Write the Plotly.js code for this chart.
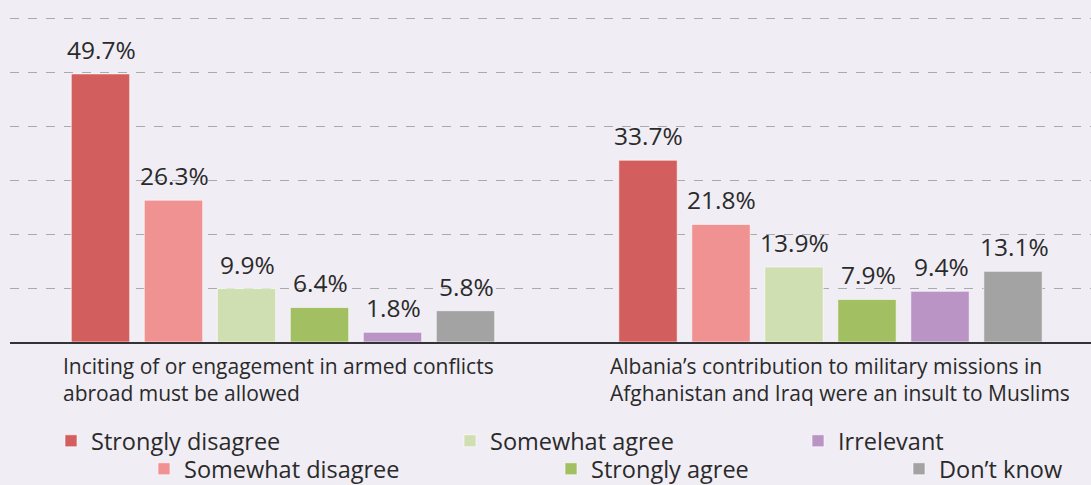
<!DOCTYPE html>
<html><head><meta charset="utf-8">
<script src="https://cdn.plot.ly/plotly-3.0.1.min.js"></script>
<style>html,body{margin:0;padding:0;background:#f0edf5;}#chart{width:1091px;height:485px;}</style>
</head><body><div id="chart"></div>
<script>
const categories = [
  "Inciting of or engagement in armed conflicts<br>abroad must be allowed",
  "Albania’s contribution to military missions in<br>Afghanistan and Iraq were an insult to Muslims"
];
const seriesNames = ["Strongly disagree","Somewhat disagree","Somewhat agree","Strongly agree","Irrelevant","Don’t know"];
const stronglyDisagree = [49.7, 33.7];
const somewhatDisagree = [26.3, 21.8];
const somewhatAgree = [9.9, 13.9];
const stronglyAgree = [6.4, 7.9];
const irrelevant = [1.8, 9.4];
const dontKnow = [5.8, 13.1];
const seriesValues = [stronglyDisagree, somewhatDisagree, somewhatAgree, stronglyAgree, irrelevant, dontKnow];
const colors = ["#d35e5e","#f09291","#d0dfb2","#a2c062","#b994c5","#a3a3a3"];

const FONT = "'Open Sans', sans-serif";
const TXT = "#2a2a2a";
const W = 1091, H = 485;
const ml = 10, mr = 0, mt = 0, mb = 143;
const xIdx = categories.map((c,i)=>i);
const xRange = [-0.4986, 1.4758];
const pxPerUnit = (W - ml - mr) / (xRange[1]-xRange[0]);
const nS = seriesNames.length;
const bargap = 0.2;
const pitch = (1-bargap)/nS * pxPerUnit;

// legend positions (symbol centre, px in container)
const legendPos = [[71,441],[164,469],[470,441],[571,469],[818,441],[919,469]];

const traces = seriesNames.map((name,i)=>({
  type:'bar', name:name, x:xIdx, y:seriesValues[i],
  marker:{color:colors[i], line:{color:'rgba(255,255,255,0.6)', width:1}},
  legend: i===0 ? 'legend' : 'legend'+(i+1),
  hoverinfo:'skip'
}));

const annotations = [];
seriesValues.forEach((vals,i)=>{
  vals.forEach((v,j)=>{
    annotations.push({x:xIdx[j], y:v, xref:'x', yref:'y', text:v.toFixed(1)+'%',
      showarrow:false, xanchor:'center', yanchor:'bottom', xshift:(i-(nS-1)/2)*pitch + 1, yshift:6,
      font:{family:FONT, size:24.5, color:TXT}});
  });
});
categories.forEach((c,j)=>{
  annotations.push({x:xIdx[j], y:0, xref:'x', yref:'y', text:c, align:'left',
    showarrow:false, xanchor:'left', yanchor:'top', xshift:-(nS/2)*pitch - 3, yshift:-8,
    font:{family:FONT, size:21, color:TXT}});
});

const layout = {
  width:W, height:H, margin:{l:ml, r:mr, t:mt, b:mb},
  paper_bgcolor:'#f0edf5', plot_bgcolor:'#f0edf5',
  font:{family:FONT, color:TXT},
  barmode:'group', bargap:bargap, bargroupgap:0.2,
  xaxis:{type:'linear', range:xRange, showticklabels:false, ticks:'', showgrid:false, zeroline:false,
    showline:true, linecolor:'#333', linewidth:1.5, fixedrange:true},
  yaxis:{range:[0,63.4], dtick:10, showticklabels:false, ticks:'', showgrid:true,
    gridcolor:'#aaaaaa', griddash:'dash', gridwidth:1, zeroline:false, fixedrange:true},
  annotations:annotations,
  showlegend:true
};
legendPos.forEach((p,i)=>{
  const key = i===0 ? 'legend' : 'legend'+(i+1);
  layout[key] = {xref:'container', yref:'container', x:(p[0]-20)/W, y:1-p[1]/H,
    xanchor:'left', yanchor:'middle', bgcolor:'rgba(0,0,0,0)',
    font:{family:FONT, size:23.5, color:TXT}, orientation:'h'};
});
Plotly.newPlot('chart', traces, layout, {displayModeBar:false, staticPlot:true});
</script></body></html>
